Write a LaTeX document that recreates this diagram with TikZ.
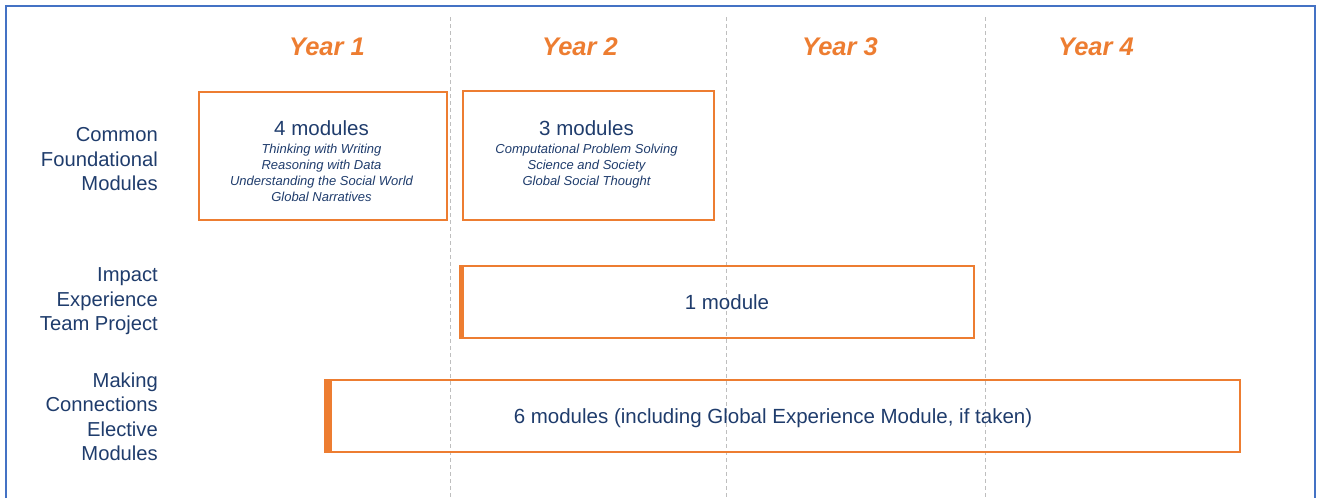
\documentclass[tikz,border=0pt]{standalone}
\usepackage{fontspec}
\setmainfont{Liberation Sans}
\usetikzlibrary{calc,positioning}
\definecolor{modorange}{RGB}{237,125,49}
\definecolor{modblue}{RGB}{31,60,108}
\definecolor{frameblue}{RGB}{68,114,196}
\definecolor{gridgray}{RGB}{190,190,190}

\begin{document}
\begin{tikzpicture}[x=1pt,y=-1pt,
        yeartext/.style={font=\fontsize{25.5}{30}\selectfont\bfseries\itshape, text=modorange, inner sep=0pt, anchor=base},
        rowtext/.style={font=\fontsize{20.2}{24.5}\selectfont, text=modblue, align=right, inner sep=0pt, anchor=north east},
        modbox/.style={draw=modorange, line width=2.2pt, inner sep=0pt, outer sep=0pt},
        headtext/.style={font=\fontsize{20.5}{24}\selectfont, text=modblue, inner sep=0pt, anchor=base},
        listtext/.style={font=\fontsize{13}{16}\selectfont\itshape, text=modblue, align=center, inner sep=0pt}]
        %限定輸出區塊
        \useasboundingbox (0,0) rectangle (1324,498);
        
        %外框
        \draw[frameblue, line width=2pt] (6,498) -- (6,6) -- (1315,6) -- (1315,498);
        
        %年份分隔虛線
        \foreach \gx in {450,726,985}
        {
            \draw[gridgray, line width=1pt, dash pattern=on 4pt off 3pt] (\gx,17) -- (\gx,498);
        };
        
        \foreach \yr/\cx in {1/327,2/580,3/840,4/1096}
        {
            \node[yeartext] (year\yr) at (\cx,55) {Year \yr};
        };
        
        %左側標題
        \node[rowtext] (common) at (158,127.5) {Common\\Foundational\\Modules};
        \node[rowtext] (impact) at (158,267.5) {Impact\\Experience\\Team Project};
        \node[rowtext] (making) at (158,372.5) {Making\\Connections\\Elective\\Modules};
        
        %方框
        \node[modbox, minimum width=247.5pt, minimum height=128.5pt] (yronebox) at (323,156) {};
        \node[modbox, minimum width=251pt, minimum height=129pt] (yrtwobox) at (588.5,155.5) {};
        \node[modbox, minimum width=514pt, minimum height=72pt] (impactbox) at (717,302) {};
        \node[modbox, minimum width=915pt, minimum height=72pt] (elecbox) at (782.5,416) {};
        \draw[modorange, line width=4.5pt] ([xshift=1.5pt]impactbox.north west) -- ([xshift=1.5pt]impactbox.south west);
        \draw[modorange, line width=7pt] ([xshift=3pt]elecbox.north west) -- ([xshift=3pt]elecbox.south west);
        
        \node[headtext] (fourmods) at (321.5,135) {4 modules};
        \node[listtext, below=8.5pt of fourmods] (fourlist) {Thinking with Writing\\Reasoning with Data\\Understanding the Social World\\Global Narratives};
        \node[headtext] (threemods) at (586.5,135) {3 modules};
        \node[listtext, below=8.5pt of threemods] (threelist) {Computational Problem Solving\\Science and Society\\Global Social Thought};
        \node[headtext] (onemod) at (727,309) {1 module};
        \node[headtext] (sixmods) at (773,423) {6 modules (including Global Experience Module, if taken)};

    \end{tikzpicture}
\end{document}
